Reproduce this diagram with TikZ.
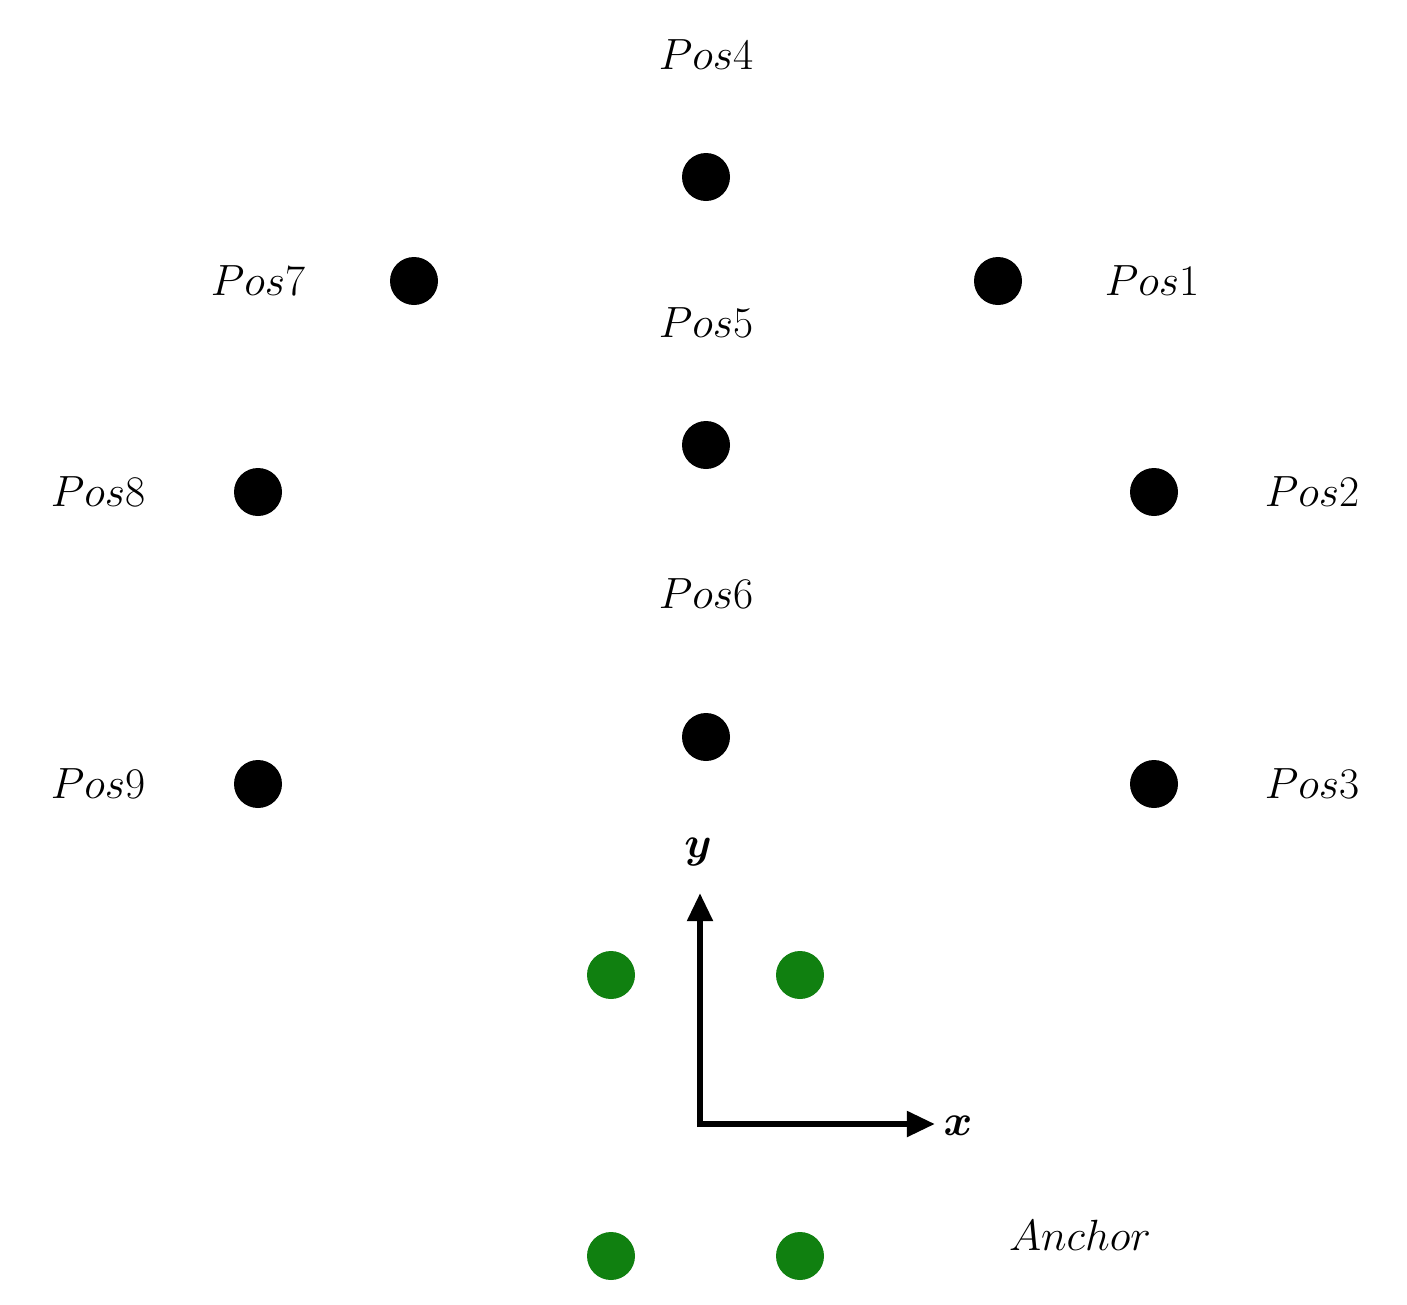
\documentclass[tikz,border=0pt]{standalone}
\usepackage{amsmath,bm}
\usetikzlibrary{arrows.meta}
\definecolor{dgreen}{RGB}{16,128,16}
\begin{document}
\begin{tikzpicture}[x=0.02cm,y=-0.02cm,
  dot/.style={circle,fill=black,minimum size=48*0.02cm,inner sep=0},
  gdot/.style={circle,fill=dgreen,minimum size=48*0.02cm,inner sep=0},
  lab/.style={font=\fontsize{50}{56}\selectfont,inner sep=0},
  axl/.style={font=\fontsize{60}{66}\selectfont,inner sep=0},
  ax/.style={line width=3.6pt,-{Triangle[length=16pt,width=14pt]}}]
\useasboundingbox (0,0) rectangle (1407,1305);
\node[dot] (p4) at (706,177) {}; \node[lab] (l4) at (706,55) {$Pos4$};
\node[dot] (p7) at (414,281) {}; \node[lab] (l7) at (258,281) {$Pos7$};
\node[dot] (p1) at (998,281) {}; \node[lab] (l1) at (1152,281) {$Pos1$};
\node[dot] (p5) at (706,445) {}; \node[lab] (l5) at (706,323) {$Pos5$};
\node[dot] (p8) at (258,492) {}; \node[lab] (l8) at (98,492) {$Pos8$};
\node[dot] (p2) at (1154,492) {}; \node[lab] (l2) at (1312,492) {$Pos2$};
\node[dot] (p6) at (706,737) {}; \node[lab] (l6) at (706,594) {$Pos6$};
\node[dot] (p9) at (258,784) {}; \node[lab] (l9) at (98,784) {$Pos9$};
\node[dot] (p3) at (1154,784) {}; \node[lab] (l3) at (1312,784) {$Pos3$};
\node[gdot] (g1) at (611,975) {}; \node[gdot] (g2) at (800,975) {};
\node[gdot] (g3) at (611,1256) {}; \node[gdot] (g4) at (800,1256) {};
\coordinate (o) at (700,1124);
\coordinate (ye) at (700,893);
\coordinate (xe) at (935,1124);
\draw[ax] ([yshift=-1.8pt]o) -- (ye);
\draw[ax] ([xshift=-1.8pt]o) -- (xe);
\node[axl] (ly) at (698,852) {$\bm{y}$};
\node[axl] (lx) at (958,1126) {$\bm{x}$};
\node[lab] (la) at (1080,1235) {$Anchor$};
\end{tikzpicture}
\end{document}
